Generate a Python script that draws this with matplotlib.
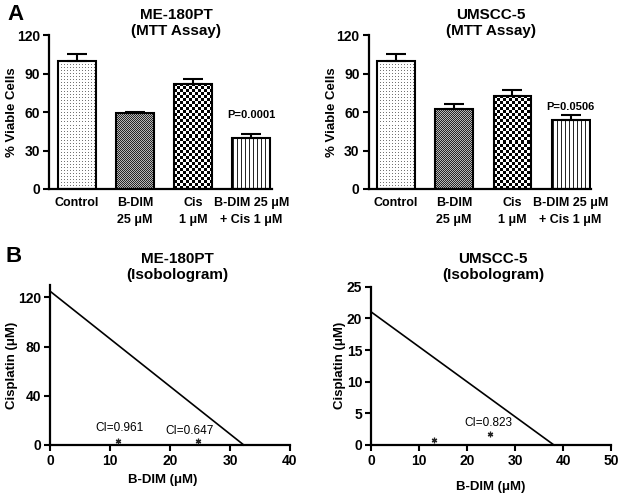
import numpy as np
import matplotlib
matplotlib.use("Agg")
import matplotlib.pyplot as plt

plt.rcParams['font.family'] = ['Liberation Sans', 'DejaVu Sans']
plt.rcParams['font.weight'] = 'bold'
plt.rcParams['axes.labelweight'] = 'bold'

# ---------------- data ----------------
bar_categories = ["Control", "B-DIM\n25 \u03bcM", "Cis\n1 \u03bcM", "B-DIM 25 \u03bcM\n+ Cis 1 \u03bcM"]
me180_mtt = [100, 59, 82, 39.5]
me180_mtt_err = [5, 1, 4, 3]
me180_p = "P=0.0001"
umscc_mtt = [100, 62, 72.5, 53.5]
umscc_mtt_err = [5, 4.5, 5, 4]
umscc_p = "P=0.0506"
bar_patterns = ["dots", "dense", "checker", "vlines"]

me180_iso_x = [0, 32.3]
me180_iso_y = [125, 0]
me180_pts_x = [11.4, 24.6]
me180_pts_y = [3.5, 3.5]
me180_ci = ["CI=0.961", "CI=0.647"]
me180_ci_x = [11.5, 23.2]
me180_ci_y = [13.6, 11.7]

umscc_iso_x = [0, 38.1]
umscc_iso_y = [21, 0]
umscc_pts_x = [13.1, 24.8]
umscc_pts_y = [0.8, 1.8]
umscc_ci = ["CI=0.823"]
umscc_ci_x = [24.5]
umscc_ci_y = [3.5]

W, H = 624, 499
fig = plt.figure(figsize=(W / 100, H / 100), dpi=100)


def pos(l, t, r, b):
    return [l / W, 1 - b / H, (r - l) / W, (b - t) / H]


def style_axes(ax):
    for s in ['top', 'right']:
        ax.spines[s].set_visible(False)
    for s in ['left', 'bottom']:
        ax.spines[s].set_linewidth(1.6)
    ax.tick_params(width=1.5, length=4, labelsize=10, pad=2.5)
    for lab in ax.get_xticklabels() + ax.get_yticklabels():
        lab.set_fontweight('bold')


def add_texture(ax, bar, kind):
    x0 = bar.get_x(); w = bar.get_width(); h = bar.get_height()
    p0 = ax.transData.transform((x0, 0))
    p1 = ax.transData.transform((x0 + w, h))
    nx = max(int(round(abs(p1[0] - p0[0]))), 1)
    ny = max(int(round(abs(p1[1] - p0[1]))), 1)
    j, i = np.meshgrid(np.arange(nx), np.arange(ny))
    arr = np.ones((ny, nx))
    if kind == "dots":
        arr[(i % 3 == 0) & (j % 3 == 0)] = 0.45
    elif kind == "dense":
        arr = np.where((i + j) % 2 == 0, 0.15, 0.72)
    elif kind == "checker":
        arr = np.where(((i // 3) + (j // 3)) % 2 == 0, 0.0, 1.0)
    elif kind == "vlines":
        arr[:, j[0] % 4 == 1] = 0.15
    im = ax.imshow(arr, cmap='gray', vmin=0, vmax=1, extent=(x0, x0 + w, 0, h),
                   origin='lower', aspect='auto', interpolation='nearest', zorder=2)
    im.set_clip_path(bar)


def bar_panel(rect, vals, errs, ptxt, pxy, title, title_x):
    ax = fig.add_axes(rect)
    x = np.arange(len(vals))
    ax.set_xlim(-0.47, 3.35)
    ax.set_ylim(0, 120)
    bars = ax.bar(x, vals, width=0.65, color='white', edgecolor='none', zorder=1)
    for b, k in zip(bars, bar_patterns):
        add_texture(ax, b, k)
    ax.bar(x, vals, width=0.65, fill=False, edgecolor='black', linewidth=1.5, zorder=3)
    ax.errorbar(x, vals, yerr=[np.zeros(len(vals)), errs], fmt='none', ecolor='black',
                elinewidth=1.5, capsize=7, capthick=1.5, zorder=4)
    ax.set_xlim(-0.47, 3.35)
    ax.set_ylim(0, 120)
    ax.set_yticks([0, 30, 60, 90, 120])
    ax.set_xticks(x)
    ax.set_xticklabels(bar_categories, fontsize=9, fontweight='bold', linespacing=1.5)
    style_axes(ax)
    ax.tick_params(axis='x', length=0, pad=6, labelsize=9)
    ax.set_ylabel("% Viable Cells", fontsize=9.5, fontweight='bold')
    ax.text(pxy[0], pxy[1], ptxt, ha='center', va='center', fontsize=8, fontweight='bold')
    fig.text(title_x / W, 1 - 23 / H, title, ha='center', va='center', fontsize=11,
             fontweight='bold', linespacing=1.25)
    return ax


ax1 = bar_panel(pos(49.3, 35, 271.7, 189), me180_mtt, me180_mtt_err, me180_p, (3, 57.7),
                "ME-180PT\n(MTT Assay)", 176)
ax1.yaxis.set_label_coords(-0.14, 0.5)
ax2 = bar_panel(pos(368.7, 35, 591, 189), umscc_mtt, umscc_mtt_err, umscc_p, (3, 63.7),
                "UMSCC-5\n(MTT Assay)", 491)
ax2.yaxis.set_label_coords(-0.138, 0.5)


def iso_panel(rect, lx, ly, px, py, cis, cx, cy, xlim, ylim, xt, yt, title, title_x):
    ax = fig.add_axes(rect)
    ax.plot(lx, ly, color='black', linewidth=1.2, zorder=3, clip_on=False)
    ax.plot(px, py, linestyle='none', marker=(6, 2, 0), markersize=4, mew=0.9,
            color='#222222', zorder=3)
    for t, xx, yy in zip(cis, cx, cy):
        ax.text(xx, yy, t, ha='center', va='center', fontsize=8.5, fontweight='normal', color='black')
    ax.set_xlim(*xlim)
    ax.set_ylim(*ylim)
    ax.set_xticks(xt)
    ax.set_yticks(yt)
    style_axes(ax)
    ax.set_xlabel("B-DIM (\u03bcM)", fontsize=9.5, fontweight='bold')
    ax.set_ylabel("Cisplatin (\u03bcM)", fontsize=9.5, fontweight='bold')
    fig.text(title_x / W, 1 - 267 / H, title, ha='center', va='center', fontsize=11,
             fontweight='bold', linespacing=1.25)
    return ax


ax3 = iso_panel(pos(50, 285, 290, 445), me180_iso_x, me180_iso_y, me180_pts_x, me180_pts_y,
                me180_ci, me180_ci_x, me180_ci_y, (0, 40), (0, 130),
                [0, 10, 20, 30, 40], [0, 40, 80, 120], "ME-180PT\n(Isobologram)", 177)
ax3.xaxis.set_label_coords(0.47, -0.18)
ax3.yaxis.set_label_coords(-0.133, 0.5)
ax4 = iso_panel(pos(371.3, 286.7, 611, 445), umscc_iso_x, umscc_iso_y, umscc_pts_x, umscc_pts_y,
                umscc_ci, umscc_ci_x, umscc_ci_y, (0, 50), (0, 25),
                [0, 10, 20, 30, 40, 50], [0, 5, 10, 15, 20, 25], "UMSCC-5\n(Isobologram)", 493)
ax4.xaxis.set_label_coords(0.5, -0.227)
ax4.yaxis.set_label_coords(-0.105, 0.5)

fig.text(15 / W, 1 - 15 / H, "A", ha='center', va='center', fontsize=16, fontweight='bold')
fig.text(14 / W, 1 - 257 / H, "B", ha='center', va='center', fontsize=16, fontweight='bold')

fig.savefig("out.png", dpi=100)
